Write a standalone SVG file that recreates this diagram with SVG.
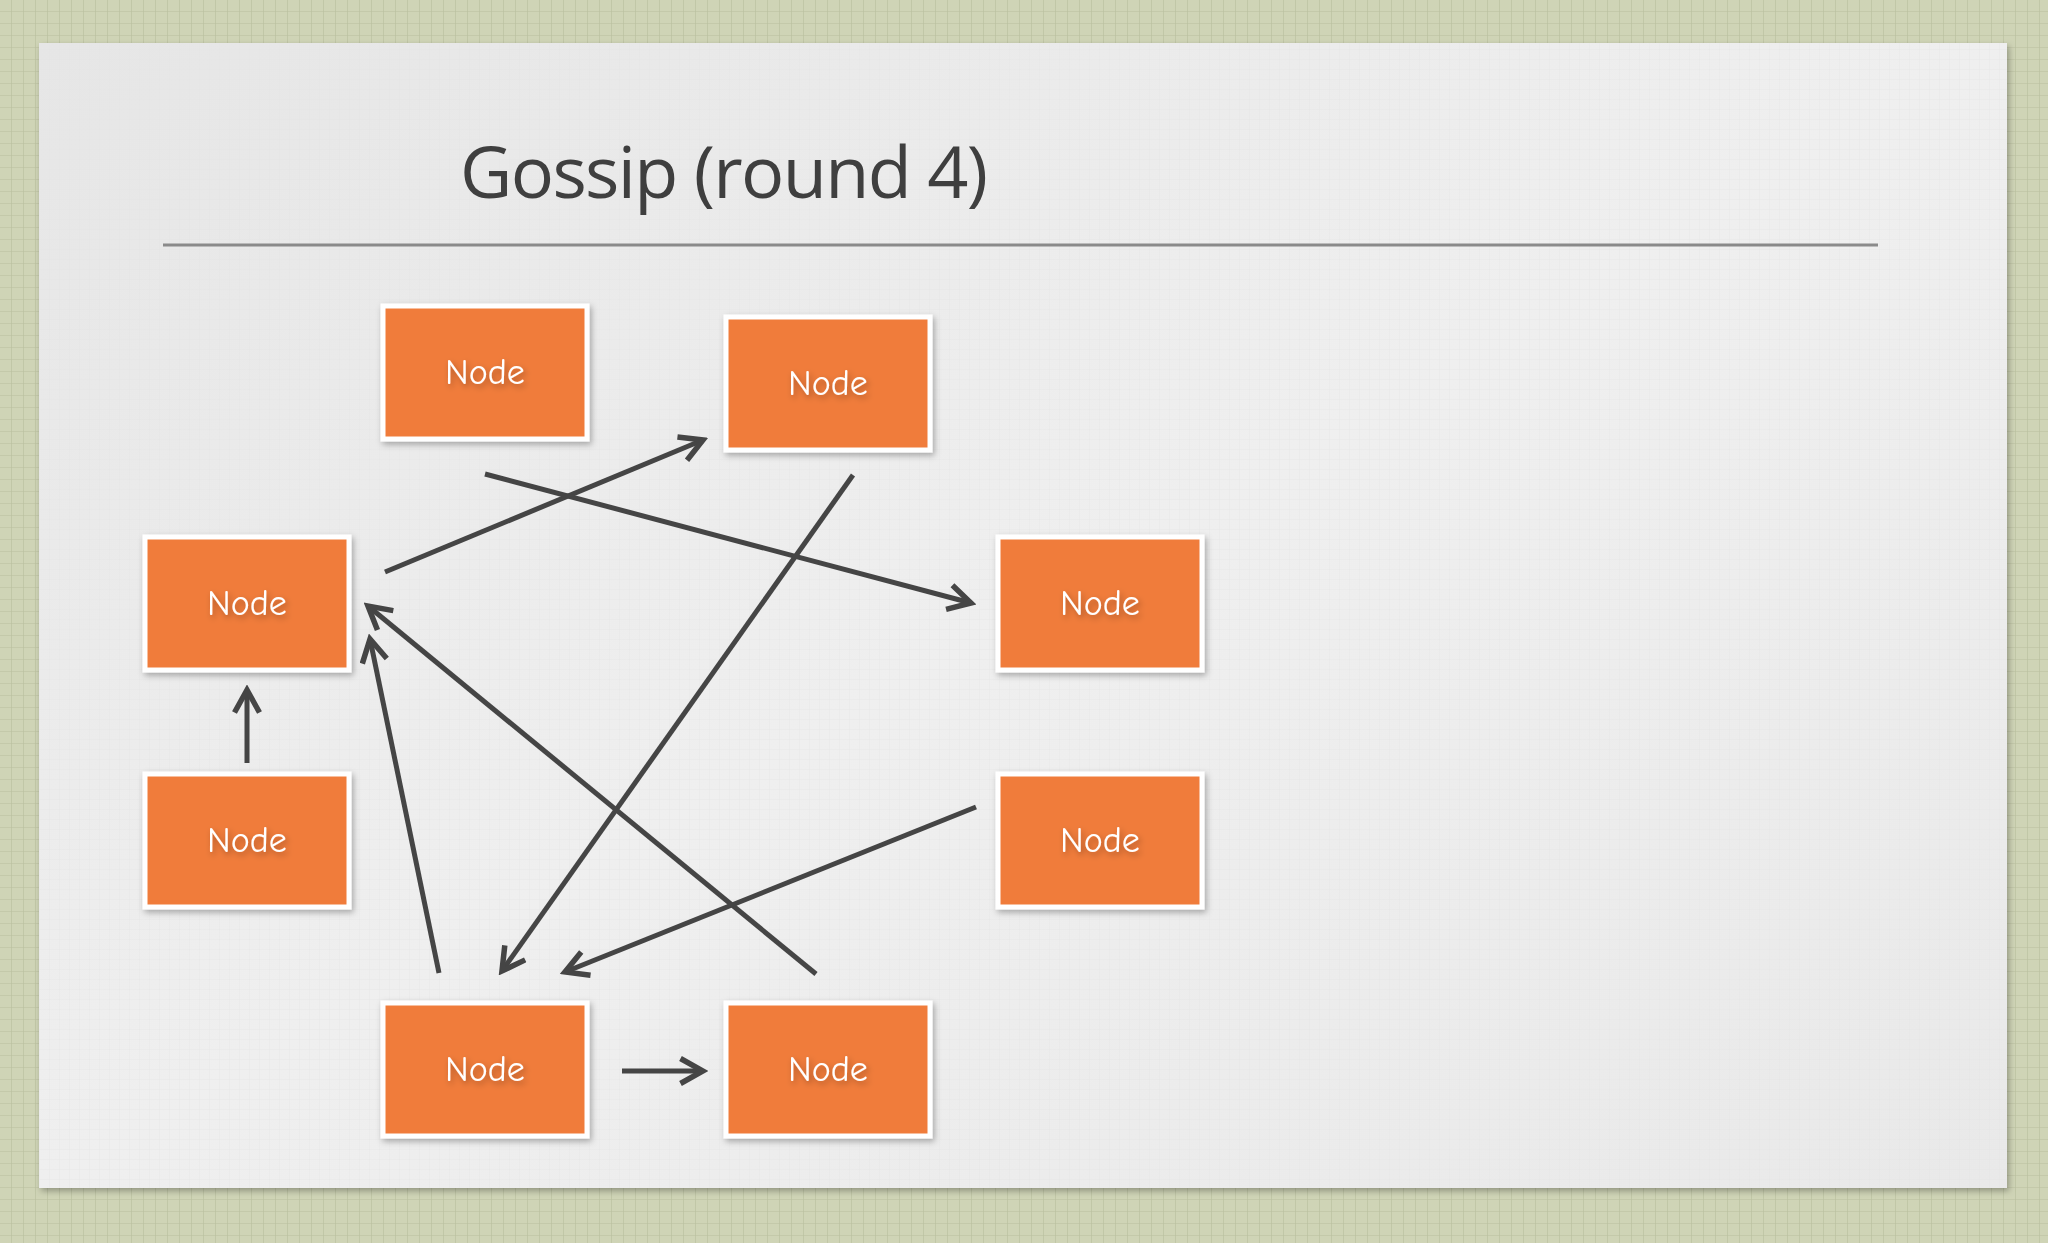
<svg xmlns="http://www.w3.org/2000/svg" width="2048" height="1243" viewBox="0 0 2048 1243">
<defs>
<pattern id="grid" width="12" height="12" patternUnits="userSpaceOnUse">
<rect width="12" height="12" fill="#cfd4b6"/>
<path d="M12 0V12M0 12H12" stroke="#b9bf9e" stroke-width="1.2"/>
</pattern>
<pattern id="fine" width="10" height="10" patternUnits="userSpaceOnUse">
<path d="M10 0V10M0 10H10" stroke="#e2e2e2" stroke-width="1"/>
</pattern>
<linearGradient id="slide" x1="0" y1="0" x2="1" y2="1">
<stop offset="0" stop-color="#e6e6e6"/>
<stop offset="0.5" stop-color="#efefef"/>
<stop offset="1" stop-color="#e9e9e9"/>
</linearGradient>
<filter id="sh" x="-10%" y="-10%" width="130%" height="130%">
<feDropShadow dx="2" dy="3" stdDeviation="3" flood-color="#000" flood-opacity="0.3"/>
</filter>
<marker id="ah" viewBox="0 0 12 12" refX="10" refY="6" markerWidth="6" markerHeight="6" orient="auto" markerUnits="strokeWidth">
<path d="M1 1L10 6L1 11" fill="none" stroke="#454545" stroke-width="2.2"/>
</marker>
<style>
.box{fill:#f07c3b;stroke:#fff;stroke-width:5;filter:url(#sh)}
.lbl{font-family:"Comic Neue","DejaVu Sans",sans-serif;font-size:36px;fill:#fff;text-anchor:middle;dominant-baseline:central;filter:url(#sh)}
.c{stroke:#454545;stroke-width:5;fill:none;marker-end:url(#ah)}
</style>
</defs>
<rect width="2048" height="1243" fill="url(#grid)"/>
<rect x="39" y="43" width="1968" height="1145" fill="url(#slide)" filter="url(#sh)"/>
<rect x="39" y="43" width="1968" height="1145" fill="url(#fine)" opacity="0.6"/>
<text x="460" y="198" font-family="'Open Sans',sans-serif" font-size="72" fill="#3f3f3f" textLength="528">Gossip (round 4)</text>
<line x1="163" y1="245" x2="1878" y2="245" stroke="#8a8a8a" stroke-width="3"/>
<g id="n1"><rect class="box" x="383" y="306" width="204" height="133"/><text class="lbl" x="485" y="372">Node</text></g>
<g id="n2"><rect class="box" x="726" y="317" width="204" height="133"/><text class="lbl" x="828" y="383">Node</text></g>
<g id="n3"><rect class="box" x="145" y="537" width="204" height="133"/><text class="lbl" x="247" y="603">Node</text></g>
<g id="n4"><rect class="box" x="998" y="537" width="204" height="133"/><text class="lbl" x="1100" y="603">Node</text></g>
<g id="n5"><rect class="box" x="145" y="774" width="204" height="133"/><text class="lbl" x="247" y="840">Node</text></g>
<g id="n6"><rect class="box" x="998" y="774" width="204" height="133"/><text class="lbl" x="1100" y="840">Node</text></g>
<g id="n7"><rect class="box" x="383" y="1003" width="204" height="133"/><text class="lbl" x="485" y="1069">Node</text></g>
<g id="n8"><rect class="box" x="726" y="1003" width="204" height="133"/><text class="lbl" x="828" y="1069">Node</text></g>
<g id="connectors">
<line class="c" x1="385" y1="572" x2="703" y2="440"/>
<line class="c" x1="485" y1="474" x2="971" y2="603"/>
<line class="c" x1="853" y1="475" x2="502" y2="971"/>
<line class="c" x1="247" y1="763" x2="247" y2="690"/>
<line class="c" x1="439" y1="973" x2="370" y2="639"/>
<line class="c" x1="816" y1="974" x2="368" y2="606"/>
<line class="c" x1="976" y1="807" x2="565" y2="972"/>
<line class="c" x1="622" y1="1071" x2="703" y2="1071"/>
</g>
</svg>
